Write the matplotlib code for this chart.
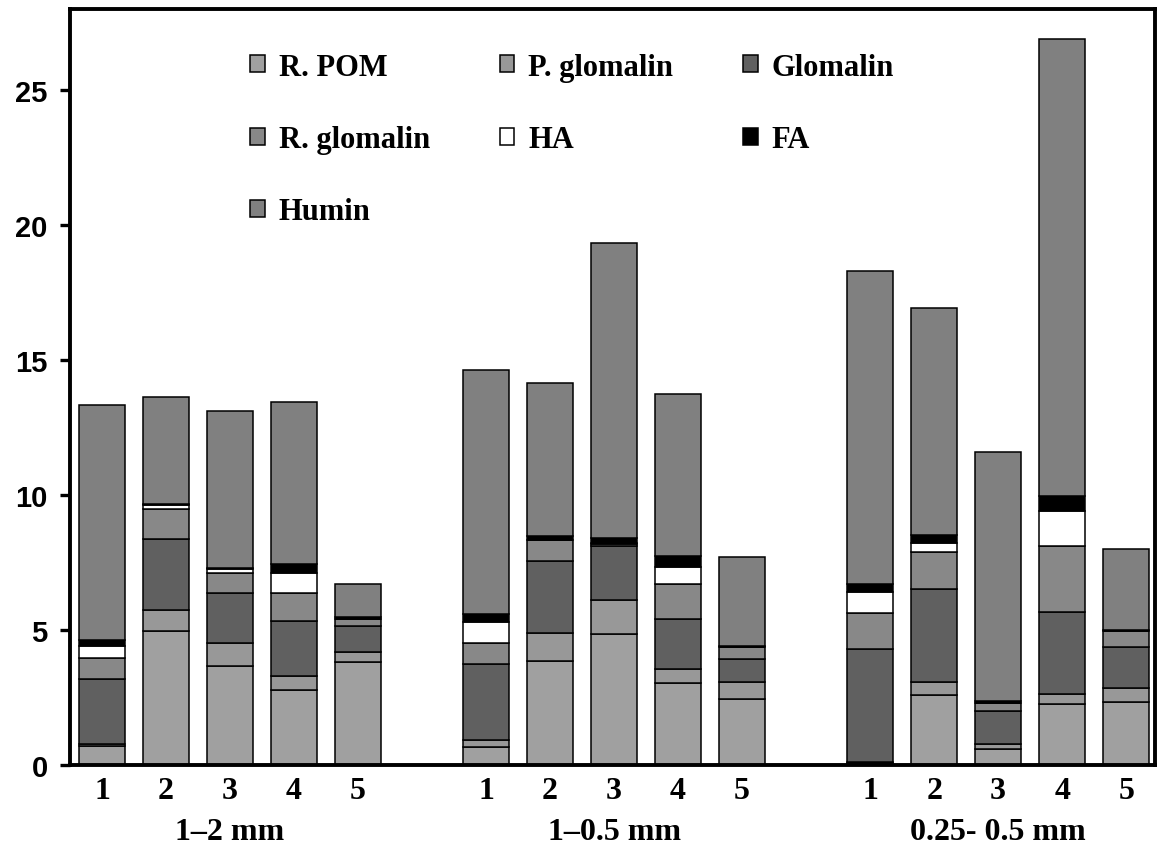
import matplotlib
matplotlib.use("Agg")
import matplotlib.pyplot as plt
import numpy as np

# Aggregate size classes and treatments
groups = ["1\u20132 mm", "1\u20130.5 mm", "0.25- 0.5 mm"]
treatments = ["1", "2", "3", "4", "5"]

# Fraction amounts per bar (group-major order: 5 treatments x 3 size classes)
r_pom = [0.70, 4.97, 3.67, 2.77, 3.83,
         0.65, 3.84, 4.84, 3.03, 2.44,
         0.06, 2.59, 0.59, 2.26, 2.32]
p_glomalin = [0.07, 0.76, 0.86, 0.53, 0.36,
              0.29, 1.06, 1.26, 0.52, 0.64,
              0.04, 0.47, 0.19, 0.39, 0.54]
glomalin = [2.43, 2.66, 1.85, 2.02, 0.96,
            2.79, 2.67, 2.01, 1.85, 0.84,
            4.21, 3.45, 1.22, 3.02, 1.51]
r_glomalin = [0.76, 1.10, 0.72, 1.06, 0.27,
              0.80, 0.76, 0.08, 1.29, 0.45,
              1.31, 1.40, 0.29, 2.44, 0.60]
ha = [0.45, 0.14, 0.16, 0.74, 0.00,
      0.78, 0.00, 0.03, 0.64, 0.00,
      0.80, 0.30, 0.00, 1.29, 0.00]
fa = [0.22, 0.03, 0.03, 0.34, 0.07,
      0.27, 0.15, 0.18, 0.41, 0.03,
      0.29, 0.33, 0.09, 0.56, 0.03]
humin = [8.70, 3.97, 5.82, 5.98, 1.21,
         9.06, 5.69, 10.95, 6.01, 3.31,
         11.60, 8.40, 9.23, 16.92, 2.99]

series = [
    ("R. POM", r_pom, "#a0a0a0"),
    ("P. glomalin", p_glomalin, "#989898"),
    ("Glomalin", glomalin, "#606060"),
    ("R. glomalin", r_glomalin, "#888888"),
    ("HA", ha, "#ffffff"),
    ("FA", fa, "#000000"),
    ("Humin", humin, "#808080"),
]

serif_bold = dict(family="Liberation Serif", weight="bold")

fig = plt.figure(figsize=(11.6, 8.54), dpi=100)
ax = fig.add_axes([0.0603, 0.103, 0.9354, 0.885])

# bar positions: 5 per group with one empty slot between groups
pos = np.concatenate([np.arange(5) + 6 * g for g in range(len(groups))])
bottom = np.zeros(len(pos))
handles = {}
for name, vals, color in series:
    v = np.asarray(vals)
    bars = ax.bar(pos, v, width=0.72, bottom=bottom, color=color,
                  edgecolor="black", linewidth=1.1, label=name)
    handles[name] = bars
    bottom += v

ax.set_xlim(-0.5, 16.45)
ax.set_ylim(0, 28)
ax.set_yticks([0, 5, 10, 15, 20, 25])
ax.set_xticks(pos)
ax.set_xticklabels(treatments * len(groups), fontsize=23, **serif_bold)
ax.tick_params(axis="x", length=0, pad=8)
ax.tick_params(axis="y", direction="out", length=7, width=2.4, pad=9)
for lab in ax.get_yticklabels():
    lab.set_family("Liberation Sans")
    lab.set_weight("bold")
    lab.set_fontsize(21)
for sp in ax.spines.values():
    sp.set_linewidth(2.8)

# size-class labels under each group
for g, name in enumerate(groups):
    ax.text(6 * g + 2, -0.088, name, transform=ax.get_xaxis_transform(),
            ha="center", va="center", fontsize=23, **serif_bold)

# legend laid out row by row across three columns
order = ["R. POM", "R. glomalin", "Humin", "P. glomalin", "HA", "Glomalin", "FA"]
leg = ax.legend([handles[n] for n in order], order, ncol=3, frameon=False,
                loc="upper left", bbox_to_anchor=(0.141, 0.979),
                prop=dict(family="Liberation Serif", weight="bold", size=22),
                handlelength=0.47, handleheight=0.47, handletextpad=0.45,
                labelspacing=1.42, columnspacing=2.3)

fig.savefig("out.png", dpi=100)
